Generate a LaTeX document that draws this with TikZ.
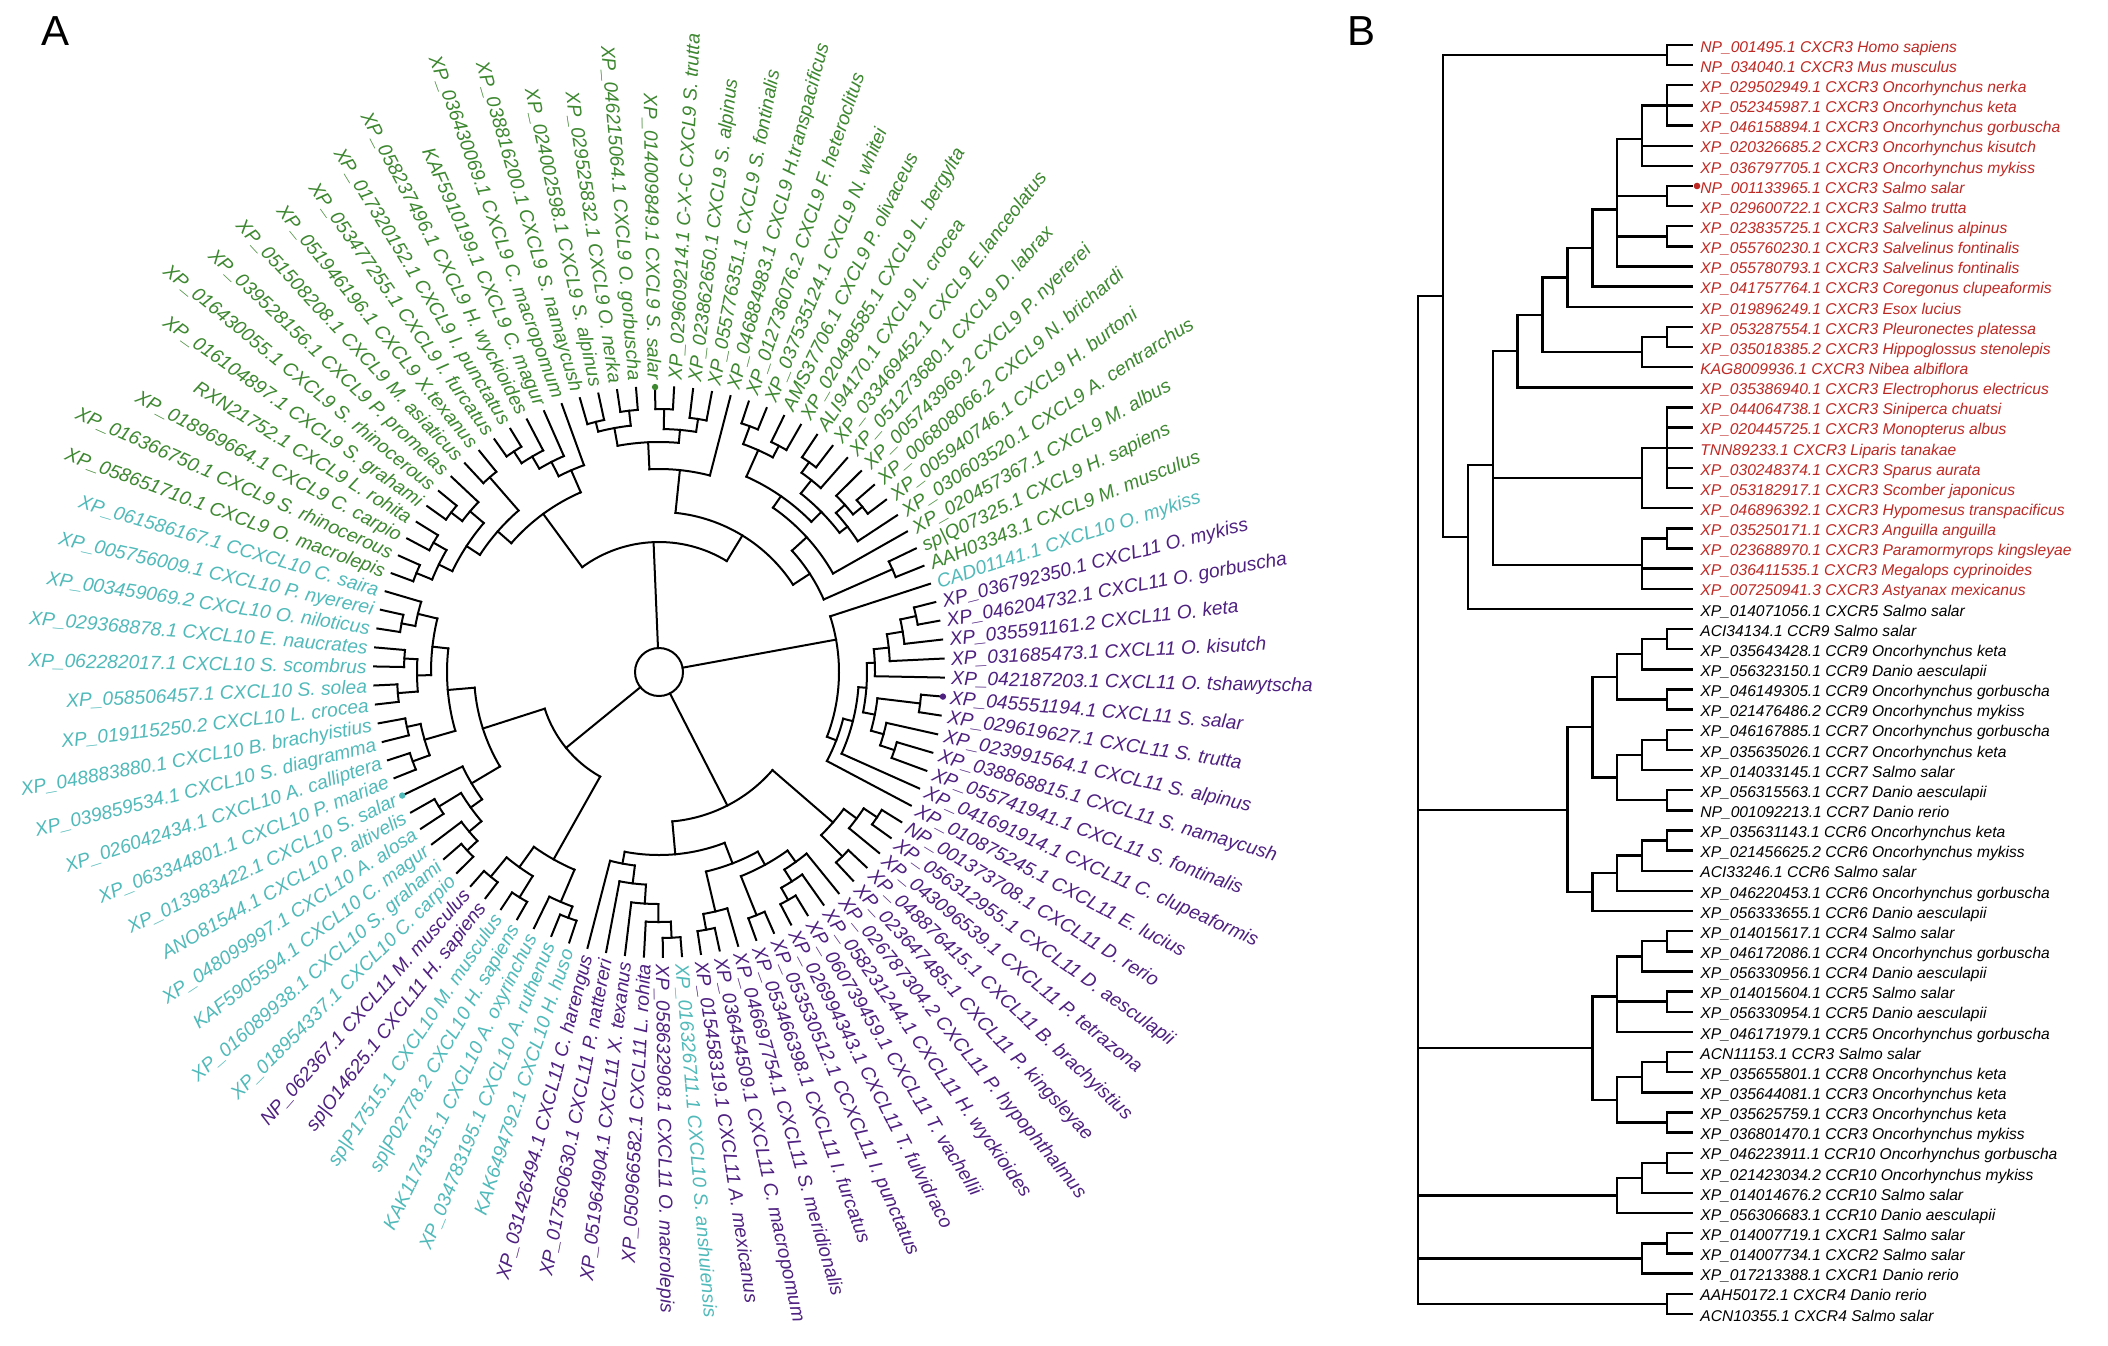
\documentclass[tikz,border=0pt]{standalone}
\usepackage{fontspec}
\setmainfont{Liberation Sans}
\definecolor{cgreen}{RGB}{61,135,48}
\definecolor{ccyan}{RGB}{80,185,185}
\definecolor{cpurp}{RGB}{78,32,128}
\definecolor{cred}{RGB}{190,40,35}
\newcommand\alab[3]{%
  \pgfmathsetmacro\aang{la(#1)}%
  \pgfmathtruncatemacro\aleft{(\aang<-90)&&(\aang>-270)}%
  \ifnum\aleft=1
    \node[alabel,#2,rotate=\aang+180,anchor=east] (L#1) at (\aang:292) {#3};
  \else
    \node[alabel,#2,rotate=\aang,anchor=west] (L#1) at (\aang:292) {#3};
  \fi}
\newcommand\blab[3]{\node[blabel,#2] (B#1) at (1700,{ry(#1)}) {#3};}
\newcommand\bv[3]{\draw[bline] ({lx(#1)},{ry(#2)}) -- ({lx(#1)},{ry(#3)});}
\newcommand\bh[3]{\draw[bline] ({lx(#1)},{ry(#3)}) -- ({lx(#2)},{ry(#3)});}
% circular clade: radius, first child idx, last child idx, children idx/radius
\newcommand\an[4]{%
  \draw[aline] ({la(#2)}:#1) arc[start angle={la(#2)}, end angle={la(#3)}, radius=#1];
  \foreach \ci/\cr in {#4} {\draw[aline] ({la(\ci)}:#1) -- ({la(\ci)}:\cr);}}
\begin{document}
\begin{tikzpicture}[x=0.5pt,y=-0.5pt,
  declare function={la(\i)=14.2-(\i-1)*3.8298; ry(\r)=45+(\r-1)*20.14; lx(\k)=1418+24.9*\k;},
  bline/.style={line width=1.2pt, line cap=rect},
  aline/.style={line width=1pt, line cap=rect},
  alabel/.style={inner sep=0pt, font=\fontsize{9.6}{11}\selectfont\itshape, text height=0.72em, text depth=0pt},
  blabel/.style={inner sep=0pt, anchor=west, font=\fontsize{7.8}{9}\selectfont\itshape, text height=0.72em, text depth=0pt},
  P/.style={text=cpurp}, C/.style={text=ccyan}, G/.style={text=cgreen}, R/.style={text=cred}, K/.style={text=black}]
\useasboundingbox (0,0) rectangle (2108,1345);
\node[font=\fontsize{21}{24}\selectfont] (panelA) at (56,31) {A};
\node[font=\fontsize{21}{24}\selectfont] (panelB) at (1361,31) {B};

% ---------------- Panel A ----------------
\begin{scope}[shift={(659,672)}, x=0.5pt, y=0.5pt]
% root
\draw[aline] (0,0) circle[radius=24];
\foreach \ci/\cr in {74.58/130, 2/180, 21.125/150, 41.47/120} {\draw[aline] ({la(\ci)}:24) -- ({la(\ci)}:\cr);}
% salmonid CXCL11 + CAD01141
\an{263}{1}{2}{1/285,2/285}
\an{247}{1.5}{3}{1.5/263,3/285}
\an{231}{2.25}{4}{2.25/247,4/285}
\an{216}{3.125}{5}{3.125/231,5/285}
\an{263}{6}{7}{6/285,7/285}
\an{248}{9}{10}{9/285,10/285}
\an{233}{8}{9.5}{8/285,9.5/248}
\an{220}{6.5}{8.75}{6.5/263,8.75/233}
\an{208}{4.0625}{7.625}{4.0625/216,7.625/220}
\an{200}{5.84375}{11}{5.84375/208,11/285}
\an{190}{8.421875}{12}{8.421875/200,12/285}
\an{180}{0}{10.2109}{0/285,10.2109/190}
% other CXCL11
\an{262}{13}{14}{13/285,14/285}
\an{246}{13.5}{15}{13.5/262,15/285}
\an{260}{16}{17}{16/285,17/285}
\an{230}{14.25}{16.5}{14.25/246,16.5/260}
\an{262}{20}{21}{20/285,21/285}
\an{248}{19}{20.5}{19/285,20.5/262}
\an{234}{18}{19.75}{18/285,19.75/248}
\an{262}{22}{23}{22/285,23/285}
\an{220}{18.875}{22.5}{18.875/234,22.5/262}
\an{262}{25}{26}{25/285,26/285}
\an{246}{24}{25.5}{24/285,25.5/262}
\an{205}{20.6875}{24.75}{20.6875/220,24.75/246}
\an{266}{27}{28}{27/285,28/285}
\an{250}{27.5}{29}{27.5/266,29/285}
\an{232}{28.25}{30}{28.25/250,30/285}
\an{213}{29.125}{31}{29.125/232,31/285}
\an{195}{30.0625}{32}{30.0625/213,32/285}
\an{183}{22.71875}{31.03125}{22.71875/205,31.03125/195}
\an{150}{15.375}{26.875}{15.375/230,26.875/183}
% sturgeon / mammal
\an{262}{33}{34}{33/285,34/285}
\an{250}{33.5}{35}{33.5/262,35/285}
\an{265}{36}{37}{36/285,37/285}
\an{265}{38}{39}{38/285,39/285}
\an{240}{36.5}{38.5}{36.5/265,38.5/265}
\an{215}{34.25}{37.5}{34.25/250,37.5/240}
% CXCL10
\an{262}{40}{41}{40/285,41/285}
\an{248}{40.5}{42}{40.5/262,42/285}
\an{258}{43}{44}{43/285,44/285}
\an{232}{41.25}{43.5}{41.25/248,43.5/258}
\an{218}{42.375}{45}{42.375/232,45/285}
\an{262}{46}{47}{46/285,47/285}
\an{258}{48}{49}{48/285,49/285}
\an{244}{46.5}{48.5}{46.5/262,48.5/258}
\an{262}{50}{51}{50/285,51/285}
\an{255}{52}{53}{52/285,53/285}
\an{242}{50.5}{52.5}{50.5/262,52.5/255}
\an{262}{54}{55}{54/285,55/285}
\an{248}{54.5}{56}{54.5/262,56/285}
\an{228}{51.5}{55.25}{51.5/242,55.25/248}
\an{212}{47.5}{53.375}{47.5/244,53.375/228}
\an{185}{43.6875}{50.4375}{43.6875/218,50.4375/212}
\an{120}{35.875}{47.0625}{35.875/215,47.0625/185}
% CXCL9
\an{262}{57}{58}{57/285,58/285}
\an{260}{59}{60}{59/285,60/285}
\an{245}{57.5}{59.5}{57.5/262,59.5/260}
\an{262}{61}{62}{61/285,62/285}
\an{248}{61.5}{63}{61.5/262,63/285}
\an{230}{58.5}{62.25}{58.5/245,62.25/248}
\an{258}{64}{65}{64/285,65/285}
\an{214}{60.375}{64.5}{60.375/230,64.5/258}
\an{264}{66}{67}{66/285,67/285}
\an{250}{66.5}{68}{66.5/264,68/285}
\an{236}{67.25}{69}{67.25/250,69/285}
\an{220}{68.125}{70}{68.125/236,70/285}
\an{196}{62.4375}{69.0625}{62.4375/214,69.0625/220}
\an{258}{71}{72}{71/285,72/285}
\an{263}{73}{74}{73/285,74/285}
\an{248}{71.5}{73.5}{71.5/258,73.5/263}
\an{263}{75}{76}{75/285,76/285}
\an{256}{77}{78}{77/285,78/285}
\an{243}{75.5}{77.5}{75.5/263,77.5/256}
\an{230}{72.5}{76.5}{72.5/248,76.5/243}
\an{203}{74.5}{79}{74.5/230,79/285}
\an{262}{80}{81}{80/285,81/285}
\an{256}{82}{83}{82/285,83/285}
\an{243}{80.5}{82.5}{80.5/262,82.5/256}
\an{258}{84}{85}{84/285,85/285}
\an{245}{84.5}{86}{84.5/258,86/285}
\an{262}{88}{89}{88/285,89/285}
\an{250}{87}{88.5}{87/285,88.5/262}
\an{238}{87.75}{90}{87.75/250,90/285}
\an{228}{85.25}{88.875}{85.25/245,88.875/238}
\an{214}{81.5}{87.0625}{81.5/243,87.0625/228}
\an{200}{84.28}{91}{84.28/214,91/285}
\an{255}{92}{93}{92/285,93/285}
\an{180}{87.64}{92.5}{87.64/200,92.5/255}
\an{160}{76.75}{90.07}{76.75/203,90.07/180}
\an{130}{65.75}{83.41}{65.75/196,83.41/160}
% marked tips
\fill[cpurp] ({la(6)}:285) circle[radius=3.2];
\fill[ccyan] ({la(45)}:285) circle[radius=3.2];
\fill[cgreen] ({la(75)}:285) circle[radius=3.2];
\alab{1}{P}{XP\_036792350.1 CXCL11 O. mykiss}
\alab{2}{P}{XP\_046204732.1 CXCL11 O. gorbuscha}
\alab{3}{P}{XP\_035591161.2 CXCL11 O. keta}
\alab{4}{P}{XP\_031685473.1 CXCL11 O. kisutch}
\alab{5}{P}{XP\_042187203.1 CXCL11 O. tshawytscha}
\alab{6}{P}{XP\_045551194.1 CXCL11 S. salar}
\alab{7}{P}{XP\_029619627.1 CXCL11 S. trutta}
\alab{8}{P}{XP\_023991564.1 CXCL11 S. alpinus}
\alab{9}{P}{XP\_038868815.1 CXCL11 S. namaycush}
\alab{10}{P}{XP\_055741941.1 CXCL11 S. fontinalis}
\alab{11}{P}{XP\_041691914.1 CXCL11 C. clupeaformis}
\alab{12}{P}{XP\_010875245.1 CXCL11 E. lucius}
\alab{13}{P}{NP\_001373708.1 CXCL11 D. rerio}
\alab{14}{P}{XP\_056312955.1 CXCL11 D. aesculapii}
\alab{15}{P}{XP\_043096539.1 CXCL11 P. tetrazona}
\alab{16}{P}{XP\_048876415.1 CXCL11 B. brachyistius}
\alab{17}{P}{XP\_023647485.1 CXCL11 P. kingsleyae}
\alab{18}{P}{XP\_026787304.2 CXCL11 P. hypophthalmus}
\alab{19}{P}{XP\_058231244.1 CXCL11 H. wyckioides}
\alab{20}{P}{XP\_060739459.1 CXCL11 T. vachellii}
\alab{21}{P}{XP\_026994343.1 CXCL11 T. fulvidraco}
\alab{22}{P}{XP\_053530512.1 CCXCL11 I. punctatus}
\alab{23}{P}{XP\_053466398.1 CXCL11 I. furcatus}
\alab{24}{P}{XP\_046697754.1 CXCL11 S. meridionalis}
\alab{25}{P}{XP\_036454509.1 CXCL11 C. macropomum}
\alab{26}{P}{XP\_015458319.1 CXCL11 A. mexicanus}
\alab{27}{C}{XP\_016326711.1 CXCL10 S. anshuiensis}
\alab{28}{P}{XP\_058632908.1 CXCL11 O. macrolepis}
\alab{29}{P}{XP\_050966582.1 CXCL11 L. rohita}
\alab{30}{P}{XP\_051964904.1 CXCL11 X. texanus}
\alab{31}{P}{XP\_017560630.1 CXCL11 P. nattereri}
\alab{32}{P}{XP\_031426494.1 CXCL11 C. harengus}
\alab{33}{C}{KAK6494792.1 CXCL10 H. huso}
\alab{34}{C}{XP\_034783195.1 CXCL10 A. ruthenus}
\alab{35}{C}{KAK1174315.1 CXCL10 A. oxyrinchus}
\alab{36}{C}{sp\textbar P02778.2 CXCL10 H. sapiens}
\alab{37}{C}{sp\textbar P17515.1 CXCL10 M. musculus}
\alab{38}{P}{sp\textbar O14625.1 CXCL11 H. sapiens}
\alab{39}{P}{NP\_062367.1 CXCL11 M. musculus}
\alab{40}{C}{XP\_018954337.1 CXCL10 C. carpio}
\alab{41}{C}{XP\_016089938.1 CXCL10 S. grahami}
\alab{42}{C}{KAF5905594.1 CXCL10 C. magur}
\alab{43}{C}{XP\_048099997.1 CXCL10 A. alosa}
\alab{44}{C}{ANO81544.1 CXCL10 P. altivelis}
\alab{45}{C}{XP\_013983422.1 CXCL10 S. salar}
\alab{46}{C}{XP\_063344801.1 CXCL10 P. mariae}
\alab{47}{C}{XP\_026042434.1 CXCL10 A. calliptera}
\alab{48}{C}{XP\_039859534.1 CXCL10 S. diagramma}
\alab{49}{C}{XP\_048883880.1 CXCL10 B. brachyistius}
\alab{50}{C}{XP\_019115250.2 CXCL10 L. crocea}
\alab{51}{C}{XP\_058506457.1 CXCL10 S. solea}
\alab{52}{C}{XP\_062282017.1 CXCL10 S. scombrus}
\alab{53}{C}{XP\_029368878.1 CXCL10 E. naucrates}
\alab{54}{C}{XP\_003459069.2 CXCL10 O. niloticus}
\alab{55}{C}{XP\_005756009.1 CXCL10 P. nyererei}
\alab{56}{C}{XP\_061586167.1 CCXCL10 C. saira}
\alab{57}{G}{XP\_058651710.1 CXCL9 O. macrolepis}
\alab{58}{G}{XP\_016366750.1 CXCL9 S. rhinocerous}
\alab{59}{G}{XP\_018969664.1 CXCL9 C. carpio}
\alab{60}{G}{RXN21752.1 CXCL9 L. rohita}
\alab{61}{G}{XP\_016104897.1 CXCL9 S. grahami}
\alab{62}{G}{XP\_016430055.1 CXCL9 S. rhinocerous}
\alab{63}{G}{XP\_039528156.1 CXCL9 P. promelas}
\alab{64}{G}{XP\_051508208.1 CXCL9 M. asiaticus}
\alab{65}{G}{XP\_051946196.1 CXCL9 X.texanus}
\alab{66}{G}{XP\_053477255.1 CXCL9 I. furcatus}
\alab{67}{G}{XP\_017320152.1 CXCL9 I. punctatus}
\alab{68}{G}{XP\_058237496.1 CXCL9 H. wyckioides}
\alab{69}{G}{KAF5910199.1 CXCL9 C. magur}
\alab{70}{G}{XP\_036430069.1 CXCL9 C. macropomum}
\alab{71}{G}{XP\_038816200.1 CXCL9 S. namaycush}
\alab{72}{G}{XP\_024002598.1 CXCL9 S. alpinus}
\alab{73}{G}{XP\_029525832.1 CXCL9 O. nerka}
\alab{74}{G}{XP\_046215064.1 CXCL9 O. gorbuscha}
\alab{75}{G}{XP\_014009849.1 CXCL9 S. salar}
\alab{76}{G}{XP\_029609214.1 C-X-C CXCL9 S. trutta}
\alab{77}{G}{XP\_023862650.1 CXCL9 S. alpinus}
\alab{78}{G}{XP\_055776351.1 CXCL9 S. fontinalis}
\alab{79}{G}{XP\_046884983.1 CXCL9 H.transpacificus}
\alab{80}{G}{XP\_012736076.2 CXCL9 F. heteroclitus}
\alab{81}{G}{XP\_037535124.1 CXCL9 N. whitei}
\alab{82}{G}{AMS37706.1 CXCL9 P. olivaceus}
\alab{83}{G}{XP\_020498585.1 CXCL9 L. bergylta}
\alab{84}{G}{ALI94170.1 CXCL9 L. crocea}
\alab{85}{G}{XP\_033469452.1 CXCL9 E.lanceolatus}
\alab{86}{G}{XP\_051273680.1 CXCL9 D. labrax}
\alab{87}{G}{XP\_005743969.2 CXCL9 P. nyererei}
\alab{88}{G}{XP\_006808066.2 CXCL9 N. brichardi}
\alab{89}{G}{XP\_005940746.1 CXCL9 H. burtoni}
\alab{90}{G}{XP\_030603520.1 CXCL9 A. centrarchus}
\alab{91}{G}{XP\_020457367.1 CXCL9 M. albus}
\alab{92}{G}{sp\textbar Q07325.1 CXCL9 H. sapiens}
\alab{93}{G}{AAH03343.1 CXCL9 M. musculus}
\alab{94}{C}{CAD01141.1 CXCL10 O. mykiss}
\end{scope}

% ---------------- Panel B ----------------
\bv{10}{1}{2} \bh{10}{11}{1} \bh{10}{11}{2}
\bv{10}{3}{5} \bh{10}{11}{3} \bh{10}{11}{4} \bh{10}{11}{5}
\bv{9}{4}{7} \bh{9}{10}{4} \bh{9}{11}{6} \bh{9}{11}{7}
\bv{10}{8}{9} \bh{10}{11}{8} \bh{10}{11}{9}
\bv{10}{10}{11} \bh{10}{11}{10} \bh{10}{11}{11}
\bv{8}{5.6667}{12} \bh{8}{9}{5.6667} \bh{8}{10}{8.5} \bh{8}{10}{10.5} \bh{8}{11}{12}
\bv{7}{9.1667}{13} \bh{7}{8}{9.1667} \bh{7}{11}{13}
\bv{6}{11.0833}{14} \bh{6}{7}{11.0833} \bh{6}{11}{14}
\bv{10}{15}{16} \bh{10}{11}{15} \bh{10}{11}{16}
\bv{9}{15.5}{17} \bh{9}{10}{15.5} \bh{9}{11}{17}
\bv{5}{12.5417}{16.25} \bh{5}{6}{12.5417} \bh{5}{9}{16.25}
\bv{4}{14.3958}{18} \bh{4}{5}{14.3958} \bh{4}{11}{18}
\bv{10}{19}{23} \foreach \r in {19,...,23} {\bh{10}{11}{\r}}
\bv{9}{21}{24} \bh{9}{10}{21} \bh{9}{11}{24}
\bv{10}{25}{26} \bh{10}{11}{25} \bh{10}{11}{26}
\bv{9}{25.5}{28} \bh{9}{10}{25.5} \bh{9}{11}{27} \bh{9}{11}{28}
\bv{3}{16.1979}{26.8333} \bh{3}{4}{16.1979} \bh{3}{9}{22.5} \bh{3}{9}{26.8333}
\bv{2}{21.8437}{29} \bh{2}{3}{21.8437} \bh{2}{11}{29}
\bv{1}{1.5}{25.4219} \bh{1}{10}{1.5} \bh{1}{2}{25.4219}
\bv{10}{30}{31} \bh{10}{11}{30} \bh{10}{11}{31}
\bv{9}{30.5}{32} \bh{9}{10}{30.5} \bh{9}{11}{32}
\bv{10}{33}{34} \bh{10}{11}{33} \bh{10}{11}{34}
\bv{8}{31.25}{33.5} \bh{8}{9}{31.25} \bh{8}{10}{33.5}
\bv{10}{35}{36} \bh{10}{11}{35} \bh{10}{11}{36}
\bv{9}{35.5}{37} \bh{9}{10}{35.5} \bh{9}{11}{37}
\bv{10}{38}{39} \bh{10}{11}{38} \bh{10}{11}{39}
\bv{8}{36.25}{38.5} \bh{8}{9}{36.25} \bh{8}{10}{38.5}
\bv{7}{32.375}{37.375} \bh{7}{8}{32.375} \bh{7}{8}{37.375}
\bv{10}{40}{41} \bh{10}{11}{40} \bh{10}{11}{41}
\bv{9}{40.5}{42} \bh{9}{10}{40.5} \bh{9}{11}{42}
\bv{8}{41.25}{43} \bh{8}{9}{41.25} \bh{8}{11}{43}
\bv{7}{42.125}{44} \bh{7}{8}{42.125} \bh{7}{11}{44}
\bv{6}{34.875}{43.0625} \bh{6}{7}{34.875} \bh{6}{7}{43.0625}
\bv{10}{45}{46} \bh{10}{11}{45} \bh{10}{11}{46}
\bv{9}{45.5}{47} \bh{9}{10}{45.5} \bh{9}{11}{47}
\bv{10}{48}{49} \bh{10}{11}{48} \bh{10}{11}{49}
\bv{8}{46.25}{50} \bh{8}{9}{46.25} \bh{8}{10}{48.5} \bh{8}{11}{50}
\bv{10}{51}{52} \bh{10}{11}{51} \bh{10}{11}{52}
\bv{9}{51.5}{53} \bh{9}{10}{51.5} \bh{9}{11}{53}
\bv{10}{54}{55} \bh{10}{11}{54} \bh{10}{11}{55}
\bv{8}{52.25}{54.5} \bh{8}{9}{52.25} \bh{8}{10}{54.5}
\bv{7}{48.25}{53.375} \bh{7}{8}{48.25} \bh{7}{8}{53.375}
\bv{10}{56}{57} \bh{10}{11}{56} \bh{10}{11}{57}
\bv{9}{56.5}{58} \bh{9}{10}{56.5} \bh{9}{11}{58}
\bv{8}{57.25}{59} \bh{8}{9}{57.25} \bh{8}{11}{59}
\bv{10}{60}{61} \bh{10}{11}{60} \bh{10}{11}{61}
\bv{9}{60.5}{62} \bh{9}{10}{60.5} \bh{9}{11}{62}
\bv{10}{63}{64} \bh{10}{11}{63} \bh{10}{11}{64}
\bv{0}{13.4609}{63.5}
\bh{0}{1}{13.4609} \bh{0}{6}{38.96875} \bh{0}{7}{50.8125} \bh{0}{8}{58.125} \bh{0}{9}{61.25} \bh{0}{10}{63.5}
\fill[cred] (1697,{ry(8)}) circle[radius=3.3];

\blab{1}{R}{NP\_001495.1 CXCR3 Homo sapiens}
\blab{2}{R}{NP\_034040.1 CXCR3 Mus musculus}
\blab{3}{R}{XP\_029502949.1 CXCR3 Oncorhynchus nerka}
\blab{4}{R}{XP\_052345987.1 CXCR3 Oncorhynchus keta}
\blab{5}{R}{XP\_046158894.1 CXCR3 Oncorhynchus gorbuscha}
\blab{6}{R}{XP\_020326685.2 CXCR3 Oncorhynchus kisutch}
\blab{7}{R}{XP\_036797705.1 CXCR3 Oncorhynchus mykiss}
\blab{8}{R}{NP\_001133965.1 CXCR3 Salmo salar}
\blab{9}{R}{XP\_029600722.1 CXCR3 Salmo trutta}
\blab{10}{R}{XP\_023835725.1 CXCR3 Salvelinus alpinus}
\blab{11}{R}{XP\_055760230.1 CXCR3 Salvelinus fontinalis}
\blab{12}{R}{XP\_055780793.1 CXCR3 Salvelinus fontinalis}
\blab{13}{R}{XP\_041757764.1 CXCR3 Coregonus clupeaformis}
\blab{14}{R}{XP\_019896249.1 CXCR3 Esox lucius}
\blab{15}{R}{XP\_053287554.1 CXCR3 Pleuronectes platessa}
\blab{16}{R}{XP\_035018385.2 CXCR3 Hippoglossus stenolepis}
\blab{17}{R}{KAG8009936.1 CXCR3 Nibea albiflora}
\blab{18}{R}{XP\_035386940.1 CXCR3 Electrophorus electricus}
\blab{19}{R}{XP\_044064738.1 CXCR3 Siniperca chuatsi}
\blab{20}{R}{XP\_020445725.1 CXCR3 Monopterus albus}
\blab{21}{R}{TNN89233.1 CXCR3 Liparis tanakae}
\blab{22}{R}{XP\_030248374.1 CXCR3 Sparus aurata}
\blab{23}{R}{XP\_053182917.1 CXCR3 Scomber japonicus}
\blab{24}{R}{XP\_046896392.1 CXCR3 Hypomesus transpacificus}
\blab{25}{R}{XP\_035250171.1 CXCR3 Anguilla anguilla}
\blab{26}{R}{XP\_023688970.1 CXCR3 Paramormyrops kingsleyae}
\blab{27}{R}{XP\_036411535.1 CXCR3 Megalops cyprinoides}
\blab{28}{R}{XP\_007250941.3 CXCR3 Astyanax mexicanus}
\blab{29}{K}{XP\_014071056.1 CXCR5 Salmo salar}
\blab{30}{K}{ACI34134.1 CCR9 Salmo salar}
\blab{31}{K}{XP\_035643428.1 CCR9 Oncorhynchus keta}
\blab{32}{K}{XP\_056323150.1 CCR9 Danio aesculapii}
\blab{33}{K}{XP\_046149305.1 CCR9 Oncorhynchus gorbuscha}
\blab{34}{K}{XP\_021476486.2 CCR9 Oncorhynchus mykiss}
\blab{35}{K}{XP\_046167885.1 CCR7 Oncorhynchus gorbuscha}
\blab{36}{K}{XP\_035635026.1 CCR7 Oncorhynchus keta}
\blab{37}{K}{XP\_014033145.1 CCR7 Salmo salar}
\blab{38}{K}{XP\_056315563.1 CCR7 Danio aesculapii}
\blab{39}{K}{NP\_001092213.1 CCR7 Danio rerio}
\blab{40}{K}{XP\_035631143.1 CCR6 Oncorhynchus keta}
\blab{41}{K}{XP\_021456625.2 CCR6 Oncorhynchus mykiss}
\blab{42}{K}{ACI33246.1 CCR6 Salmo salar}
\blab{43}{K}{XP\_046220453.1 CCR6 Oncorhynchus gorbuscha}
\blab{44}{K}{XP\_056333655.1 CCR6 Danio aesculapii}
\blab{45}{K}{XP\_014015617.1 CCR4 Salmo salar}
\blab{46}{K}{XP\_046172086.1 CCR4 Oncorhynchus gorbuscha}
\blab{47}{K}{XP\_056330956.1 CCR4 Danio aesculapii}
\blab{48}{K}{XP\_014015604.1 CCR5 Salmo salar}
\blab{49}{K}{XP\_056330954.1 CCR5 Danio aesculapii}
\blab{50}{K}{XP\_046171979.1 CCR5 Oncorhynchus gorbuscha}
\blab{51}{K}{ACN11153.1 CCR3 Salmo salar}
\blab{52}{K}{XP\_035655801.1 CCR8 Oncorhynchus keta}
\blab{53}{K}{XP\_035644081.1 CCR3 Oncorhynchus keta}
\blab{54}{K}{XP\_035625759.1 CCR3 Oncorhynchus keta}
\blab{55}{K}{XP\_036801470.1 CCR3 Oncorhynchus mykiss}
\blab{56}{K}{XP\_046223911.1 CCR10 Oncorhynchus gorbuscha}
\blab{57}{K}{XP\_021423034.2 CCR10 Oncorhynchus mykiss}
\blab{58}{K}{XP\_014014676.2 CCR10 Salmo salar}
\blab{59}{K}{XP\_056306683.1 CCR10 Danio aesculapii}
\blab{60}{K}{XP\_014007719.1 CXCR1 Salmo salar}
\blab{61}{K}{XP\_014007734.1 CXCR2 Salmo salar}
\blab{62}{K}{XP\_017213388.1 CXCR1 Danio rerio}
\blab{63}{K}{AAH50172.1 CXCR4 Danio rerio}
\blab{64}{K}{ACN10355.1 CXCR4 Salmo salar}
\end{tikzpicture}
\end{document}
